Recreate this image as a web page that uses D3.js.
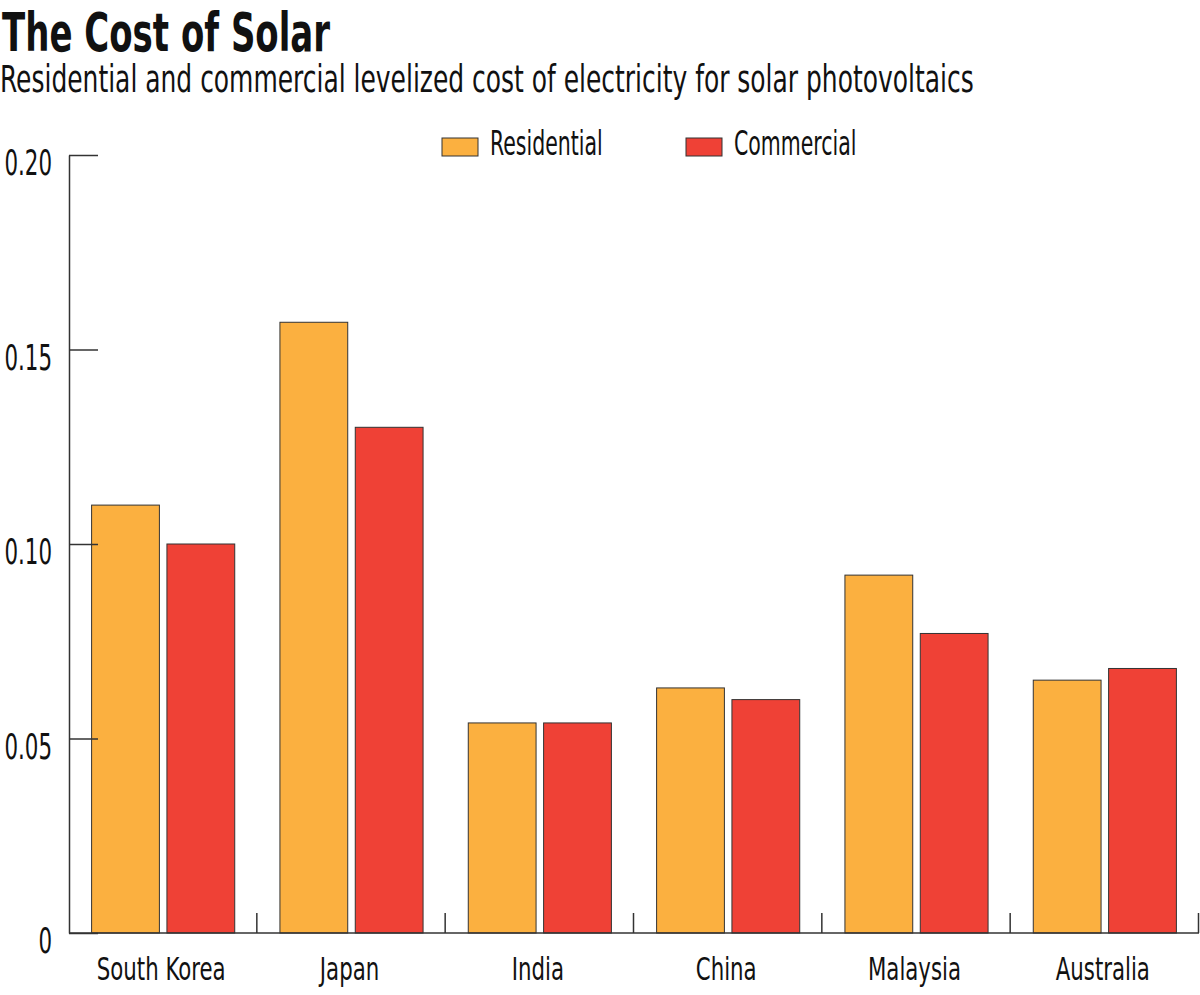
<!DOCTYPE html>
<html>
    <head>
        <title>The Cost of Solar</title>
        <script src="https://d3js.org/d3.v7.min.js"></script>
        <style>
            body { margin:0; background:#fff; }
            svg { display:block; }
            text {
                font-family:"DejaVu Sans Condensed", "DejaVu Sans", sans-serif;
                fill:#111;
            }
            .title { font-size:54px; font-weight:bold; }
            .subtitle { font-size:37px; }
            .axis-label { font-size:32px; }
            .legend-label { font-size:34px; }
        </style>
    </head>
    <body>
        <svg id="chart" width="1200" height="995"></svg>
    </body>
    <script>
        // data
        const countries = ['South Korea', 'Japan', 'India', 'China', 'Malaysia', 'Australia'];
        const seriesNames = ['Residential', 'Commercial'];
        const residential = [0.110, 0.157, 0.054, 0.063, 0.092, 0.065];
        const commercial = [0.100, 0.130, 0.054, 0.060, 0.077, 0.068];
        const yTicks = [0, 0.05, 0.10, 0.15, 0.20];
        const yTickLabels = ['0', '0.05', '0.10', '0.15', '0.20'];

        const colors = { Residential:'#FBB040', Commercial:'#EF4136' };
        const narrow = 0.74; // squeeze the condensed font a bit more

        const svg = d3.select('#chart');
        const margin = { top:155, bottom:62, left:69, right:1 };
        const width = 1200, height = 995;

        const data = countries.map((c, i) => ({
            country: c,
            values: [
                { key:'Residential', value: residential[i] },
                { key:'Commercial', value: commercial[i] }
            ]
        }));

        const x0 = d3.scaleBand()
                    .domain(countries)
                    .range([margin.left, width - margin.right])
                    .padding(0);
        const x1 = d3.scaleBand()
                    .domain(seriesNames)
                    .range([0, x0.bandwidth()])
                    .paddingInner(0.1)
                    .paddingOuter(0.3);
        const y = d3.scaleLinear()
                    .domain([0, 0.20])
                    .range([height - margin.bottom, margin.top]);

        // title + subtitle
        svg.append('text')
            .attr('class', 'title')
            .attr('transform', 'translate(2,51) scale(0.7,1)')
            .text('The Cost of Solar');
        svg.append('text')
            .attr('class', 'subtitle')
            .attr('transform', 'translate(0,92) scale(0.75,1)')
            .text('Residential and commercial levelized cost of electricity for solar photovoltaics');

        // bars
        const groups = svg.append('g').selectAll('g')
            .data(data)
            .enter()
            .append('g')
            .attr('transform', d => `translate(${x0(d.country)},0)`);

        groups.selectAll('rect')
            .data(d => d.values)
            .enter()
            .append('rect')
            .attr('x', d => x1(d.key))
            .attr('y', d => y(d.value))
            .attr('width', x1.bandwidth())
            .attr('height', d => y(0) - y(d.value))
            .attr('fill', d => colors[d.key])
            .attr('stroke', '#333')
            .attr('stroke-width', 1);

        // y axis, ticks pointing into the plot
        const yAxis = d3.axisLeft(y)
                        .tickValues(yTicks)
                        .tickFormat((d, i) => yTickLabels[i])
                        .tickSizeInner(-29)
                        .tickSizeOuter(0)
                        .tickPadding(17);
        const yg = svg.append('g')
            .attr('transform', `translate(${margin.left},0)`)
            .call(yAxis);
        yg.select('.domain').attr('stroke', '#333').attr('stroke-width', 1.5);
        yg.selectAll('.tick line').attr('stroke', '#333').attr('stroke-width', 1.5);
        yg.selectAll('.tick text')
            .attr('class', 'axis-label')
            .style('font-size', '36px')
            .attr('fill', '#111')
            .attr('dy', '0.55em')
            .attr('x', -17 / 0.66)
            .attr('transform', 'scale(0.66,1)');

        // x axis: baseline with small ticks between groups
        const xg = svg.append('g');
        xg.append('line')
            .attr('x1', x0.range()[0]).attr('x2', x0.range()[1])
            .attr('y1', y(0)).attr('y2', y(0))
            .attr('stroke', '#333').attr('stroke-width', 1.5);
        xg.selectAll('.sep')
            .data(countries)
            .enter()
            .append('line')
            .attr('class', 'sep')
            .attr('x1', d => x0(d) + x0.bandwidth() - 0.5)
            .attr('x2', d => x0(d) + x0.bandwidth() - 0.5)
            .attr('y1', y(0))
            .attr('y2', y(0) - 20)
            .attr('stroke', '#333').attr('stroke-width', 1.5);
        xg.selectAll('.cat')
            .data(countries)
            .enter()
            .append('text')
            .attr('class', 'axis-label')
            .attr('text-anchor', 'middle')
            .attr('transform', d => `translate(${x0(d) + x0.bandwidth() / 2 - 2},${y(0) + 47}) scale(${narrow},1)`)
            .text(d => d);

        // legend
        const legend = svg.append('g').attr('transform', 'translate(442,138)');
        const item = legend.selectAll('g')
            .data(seriesNames)
            .enter()
            .append('g')
            .attr('transform', (d, i) => `translate(${i * 244},0)`);
        item.append('rect')
            .attr('width', 36)
            .attr('height', 18)
            .attr('fill', d => colors[d])
            .attr('stroke', '#333')
            .attr('stroke-width', 1);
        item.append('text')
            .attr('class', 'legend-label')
            .attr('transform', 'translate(48,17) scale(0.67,1)')
            .text(d => d);
    </script>
</html>
